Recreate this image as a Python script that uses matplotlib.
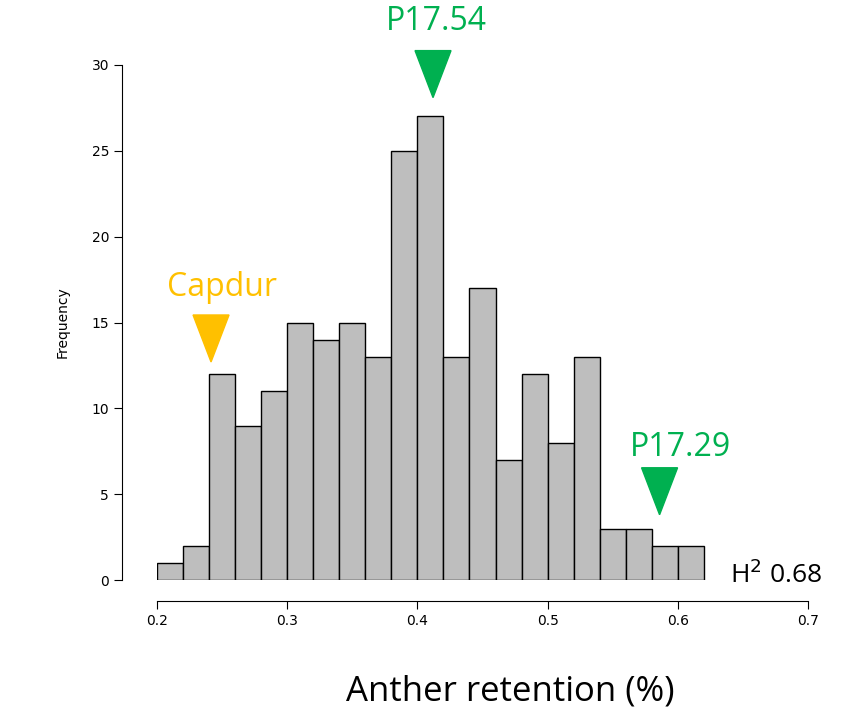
import numpy as np
import matplotlib.pyplot as plt
from matplotlib.patches import Polygon

bin_edges = np.round(np.arange(0.20, 0.6201, 0.02), 2)
counts = [1, 2, 12, 9, 11, 15, 14, 15, 13, 25, 27, 13, 17, 7, 12, 8, 13, 3, 3, 2, 2]
x_ticks = [0.2, 0.3, 0.4, 0.5, 0.6, 0.7]
y_ticks = [0, 5, 10, 15, 20, 25, 30]

# markers: (label, x, tip y, colour)
markers = [
    ("Capdur", 0.2415, 12.7, "#ffc000"),
    ("P17.54", 0.412, 28.1, "#00b050"),
    ("P17.29", 0.586, 3.8, "#00b050"),
]

W, H = 863, 725
fig = plt.figure(figsize=(W / 100, H / 100), dpi=100)
ax = fig.add_axes([157 / W, 1 - 580 / H, (808 - 157) / W, (580 - 65) / H])

ax.bar(bin_edges[:-1], counts, width=0.02, align="edge",
       color="#bebebe", edgecolor="black", linewidth=1)
ax.set_xlim(0.2, 0.7)
ax.set_ylim(0, 30)
ax.set_xticks(x_ticks)
ax.set_xticklabels([f"{t:g}" for t in x_ticks], fontsize=12, color="#333333")
ax.set_yticks(y_ticks)
ax.set_yticklabels([str(t) for t in y_ticks], fontsize=12, color="#333333", rotation=90, va="center")
for s in ["top", "right"]:
    ax.spines[s].set_visible(False)
ax.spines["left"].set_position(("outward", 25))
ax.spines["bottom"].set_position(("outward", 15))
ax.spines["left"].set_bounds(0, 30)
ax.spines["bottom"].set_bounds(0.2, 0.7)
ax.tick_params(length=6)
ax.set_ylabel("Frequency", fontsize=10, labelpad=16)

dx = 18 / 651 * 0.5
dy = 47 / 515 * 30
for label, x, y, col in markers:
    ax.add_patch(Polygon([[x - dx, y + dy], [x + dx, y + dy], [x, y]],
                         closed=True, color=col, clip_on=False))

fig.text(222 / W, 1 - 288 / H, "Capdur", color="#ffc000", fontsize=23,
         ha="center", va="center", family="Open Sans")
fig.text(436 / W, 1 - 22 / H, "P17.54", color="#00b050", fontsize=23,
         ha="center", va="center", family="Open Sans")
fig.text(680 / W, 1 - 448 / H, "P17.29", color="#00b050", fontsize=23,
         ha="center", va="center", family="Open Sans")
fig.text(730 / W, 1 - 575 / H, "H$^2$ 0.68", color="black", fontsize=19,
         ha="left", va="center", family="Open Sans")
fig.text(510 / W, 1 - 692 / H, "Anther retention (%)", color="black", fontsize=25,
         ha="center", va="center", family="Open Sans")

fig.savefig("out.png", dpi=100)
